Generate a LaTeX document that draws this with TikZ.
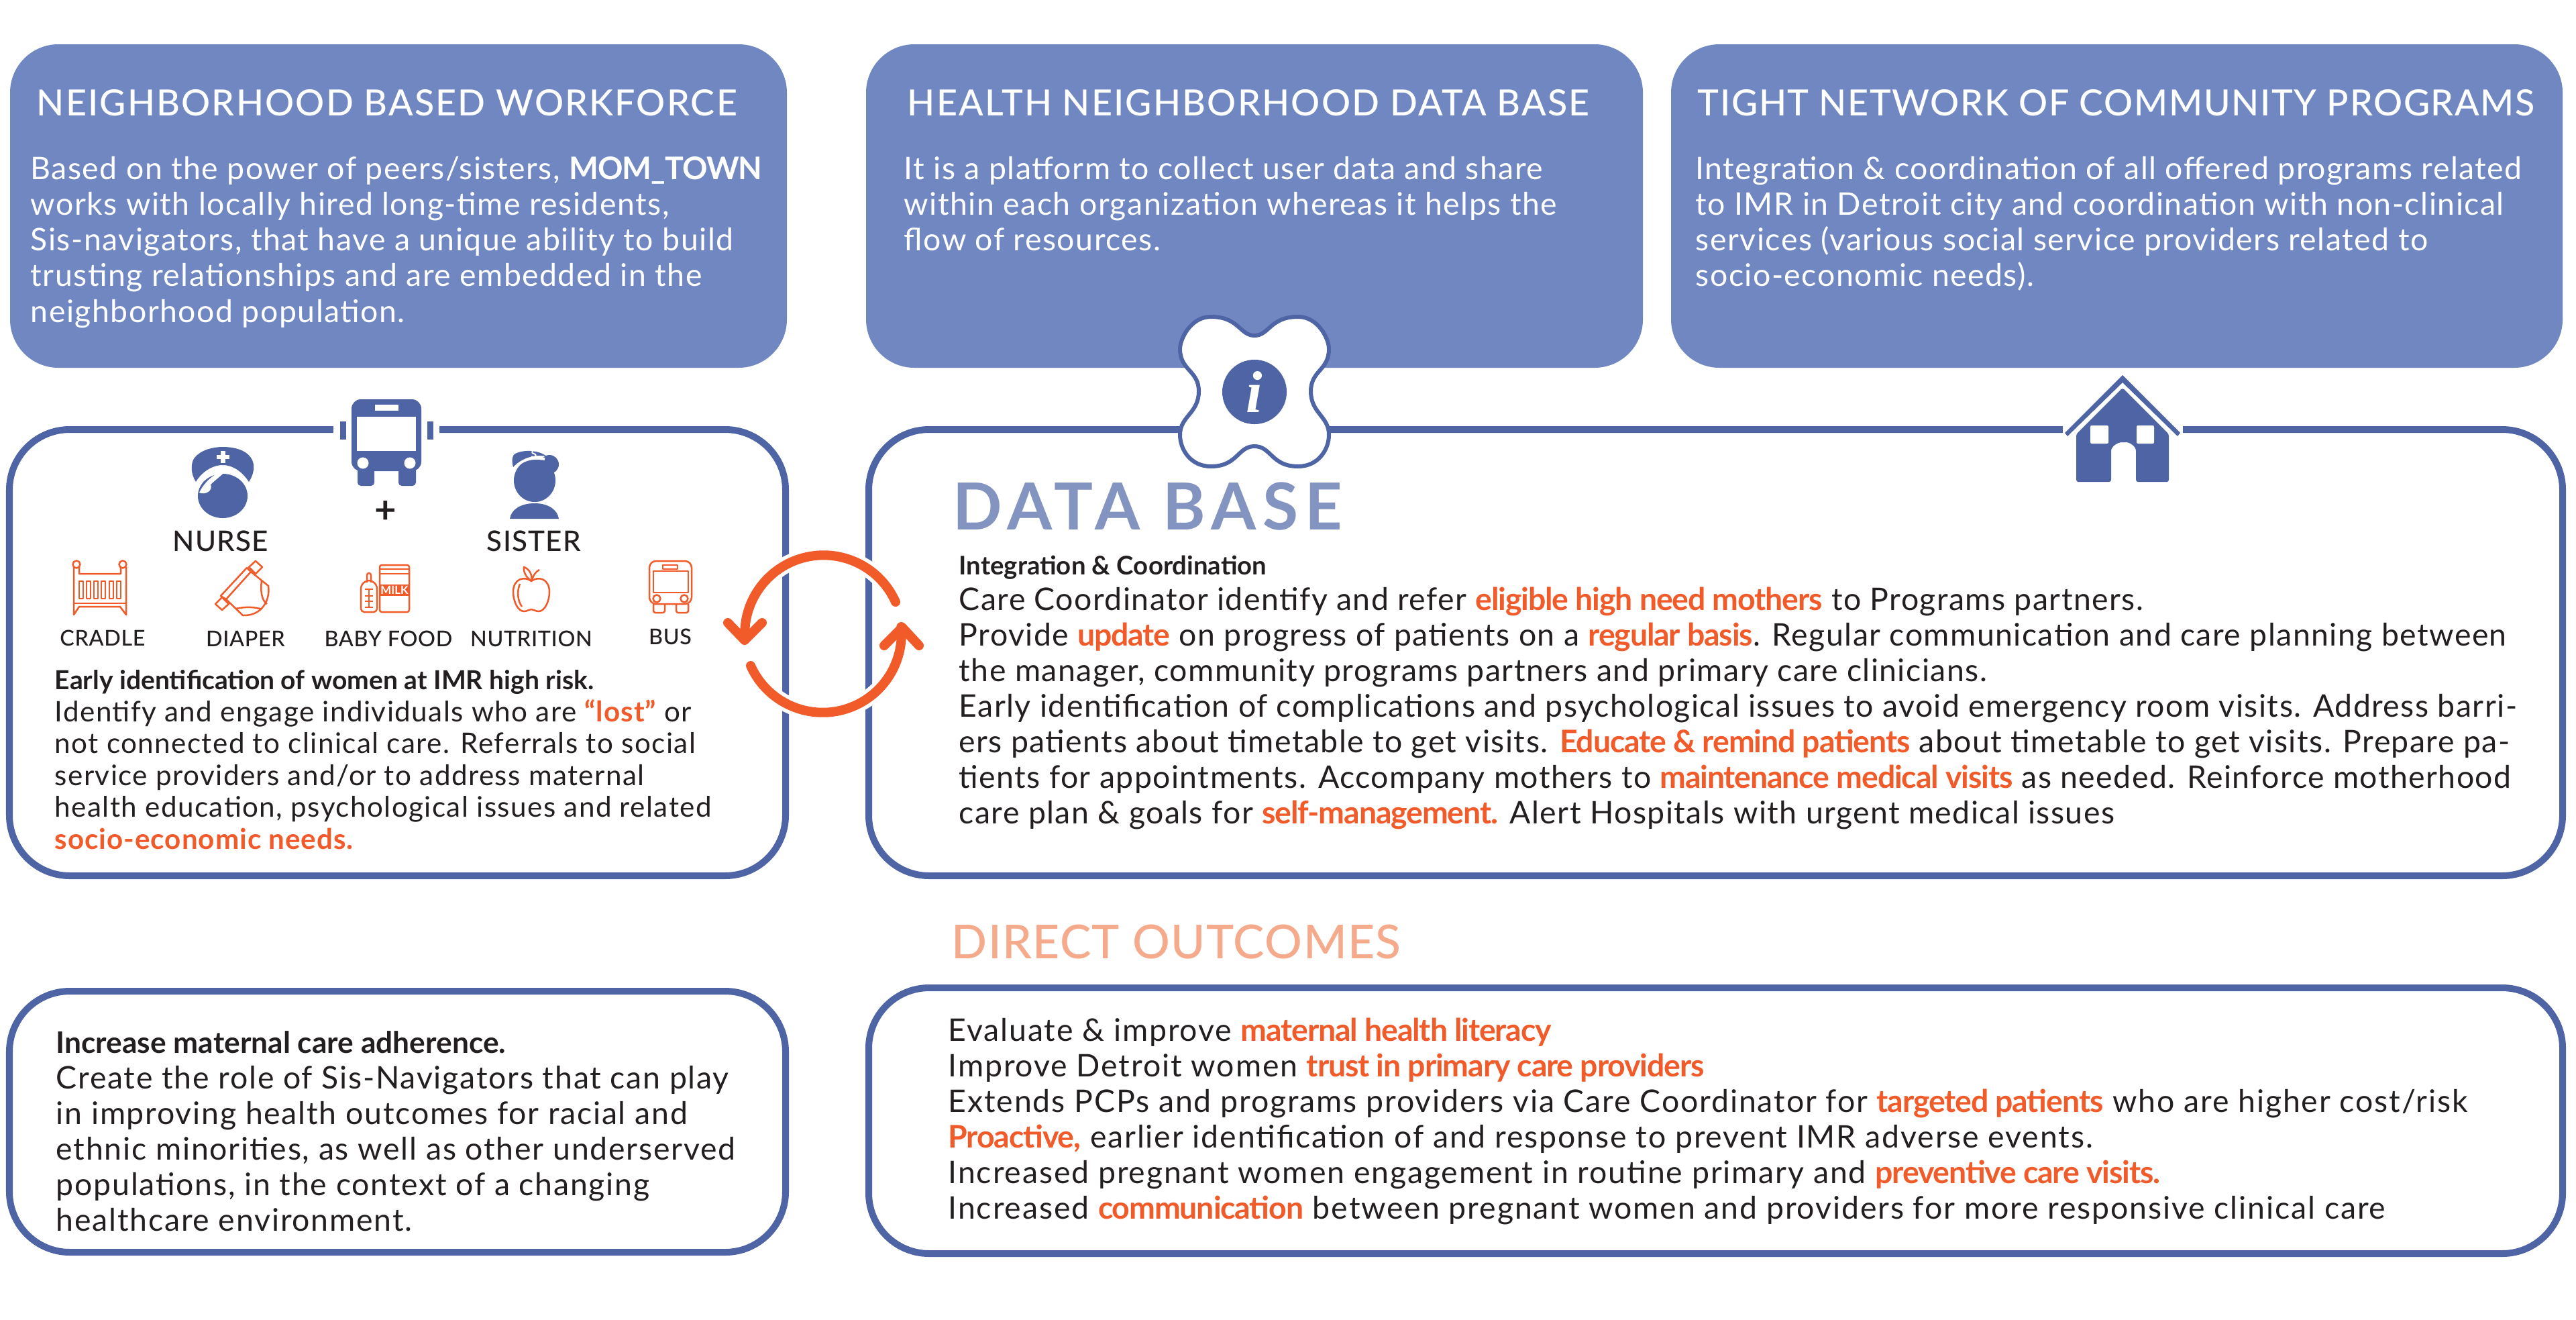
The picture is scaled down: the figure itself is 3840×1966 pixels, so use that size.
\documentclass[tikz,border=0pt]{standalone}
\usepackage{fontspec}
\setmainfont{Lato}
\newfontfamily\momstrong{Lato Bold}
\newfontfamily\mommedium{Lato Medium}
\newfontfamily\infofont{Liberation Serif}
\usetikzlibrary{positioning}
\definecolor{momblue}{RGB}{78,100,165}
\definecolor{momtop}{RGB}{112,135,194}
\definecolor{momtitle}{RGB}{132,148,192}
\definecolor{momorange}{RGB}{241,90,41}
\definecolor{momsalmon}{RGB}{245,170,140}
\definecolor{momtext}{RGB}{35,31,32}
\newcommand{\hl}[1]{{\color{momorange}\momstrong\addfontfeature{LetterSpace=-2.5}#1}}
\newcommand{\hlwide}[1]{{\color{momorange}\momstrong\addfontfeature{LetterSpace=2.3}#1}}
\newcommand{\momfont}[3]{\fontsize{#1}{#2}\selectfont\addfontfeature{LetterSpace=#3}}
\tikzset{
  topbox/.style={fill=momtop, rounded corners=0.72cm},
  linebox/.style={draw=momblue, fill=white, line width=0.1cm, rounded corners=0.9cm},
  headtext/.style={anchor=base west, inner sep=0, text=white, font=\mommedium\momfont{15.3}{17}{4}},
  toptext/.style={anchor=north west, inner sep=0, align=left, text=white, font=\momfont{13.2}{15.08}{3.2}},
  bodytext/.style={anchor=north west, inner sep=0, align=left, text=momtext, font=\momfont{13.2}{15.08}{3.1}},
  iconlabel/.style={inner sep=0, text=momtext, font=\mommedium\momfont{9.2}{11}{2}},
  rolelabel/.style={inner sep=0, text=momtext, font=\mommedium\momfont{12}{14}{3}},
  thinicon/.style={draw=momorange, line width=0.025cm, line join=round},
  cyclearc/.style={draw=momorange, line width=0.14cm, line cap=round, line join=round},
  halo/.style={draw=white, line width=0.25cm}
}
\begin{document}
\begin{tikzpicture}[x=0.01cm, y=-0.01cm]
\useasboundingbox (0,0) rectangle (3840,1966);
\fill[white] (0,0) rectangle (3840,1966);

\fill[topbox] (15,66) rectangle (1173,548);
\fill[topbox] (1291,66) rectangle (2449,548);
\fill[topbox] (2491,66) rectangle (3820,548);
\node[headtext] (workforcehead) at (54,172) {NEIGHBORHOOD BASED WORKFORCE};
\node[headtext] (datahead) at (1352,172) {HEALTH NEIGHBORHOOD DATA BASE};
\node[headtext, font=\mommedium\momfont{15.3}{17}{3}] (networkhead) at (2530,172) {TIGHT NETWORK OF COMMUNITY PROGRAMS};
\node[toptext] (workforcetext) at (45,233) {Based on the power of peers/sisters, {\momstrong\addfontfeature{LetterSpace=-2}MOM\_TOWN}\\
works with locally hired long-time residents,\\
Sis-navigators, that have a unique ability to build\\
trusting relationships and are embedded in the\\
neighborhood population.};
\node[toptext] (datatext) at (1347,233) {It is a platform to collect user data and share\\
within each organization whereas it helps the\\
flow of resources.};
\node[toptext] (networktext) at (2527,233) {Integration \& coordination of all offered programs related\\
to IMR in Detroit city and coordination with non-clinical\\
services (various social service providers related to\\
socio-economic needs).};

\draw[linebox] (14,640) rectangle (1171,1305);
\draw[linebox] (1295,640) rectangle (3820,1305);
\draw[linebox] (14,1477) rectangle (1171,1866);
\draw[linebox] (1295,1472) rectangle (3820,1868);

% bus on the line
\fill[white] (497,625) rectangle (655,655);
\fill[momblue] (507,628) rectangle (516,655);
\fill[momblue] (637,628) rectangle (646,655);
\fill[momblue, rounded corners=0.14cm] (524,595) rectangle (628,702);
\fill[momblue, rounded corners=0.05cm] (533,690) rectangle (558,724);
\fill[momblue, rounded corners=0.05cm] (594,690) rectangle (620,724);
\fill[white] (532,621) rectangle (620,672);
\fill[white] (559,603) rectangle (594,612);
\fill[white] (541,690) circle (0.085cm);
\fill[white] (611,690) circle (0.085cm);

% nurse
\fill[momblue] (332,739) ellipse (0.37cm and 0.33cm);
\draw[white, line width=0.05cm] (296,724) .. controls (305,704) and (318,698) .. (332,698) .. controls (346,698) and (360,704) .. (368,724);
\fill[white] (340,697) .. controls (325,704) and (308,712) .. (297,734) .. controls (305,738) and (318,732) .. (314,722) .. controls (322,714) and (332,708) .. (340,697) -- cycle;
\fill[momblue] (292,718) .. controls (284,706) and (284,690) .. (290,682) .. controls (300,670) and (318,666) .. (332,666) .. controls (348,666) and (366,670) .. (374,682) .. controls (381,692) and (379,706) .. (371,718) .. controls (362,704) and (348,693) .. (332,693) .. controls (316,693) and (300,704) .. (292,718) -- cycle;
\fill[white] (329,672) rectangle (336,690);
\fill[white] (323,678) rectangle (342,684);
\node[rolelabel] (nurselabel) at (329,806) {NURSE};

% plus
\node[inner sep=0, text=momtext, font=\momstrong\fontsize{16}{16}\selectfont] (pluslabel) at (575,763) {+};

% sister
\fill[momblue] (797,716) ellipse (0.31cm and 0.32cm);
\fill[momblue] (819,692) circle (0.14cm);
\fill[momblue] (760,773) .. controls (762,760) and (775,750) .. (797,750) .. controls (818,750) and (831,760) .. (833,773) -- cycle;
\draw[white, line width=0.04cm] (764,700) .. controls (775,686) and (792,680) .. (812,684);
\fill[momblue] (765,696) .. controls (762,685) and (764,678) .. (768,676) .. controls (780,670) and (802,670) .. (815,680) .. controls (795,676) and (776,684) .. (765,696) -- cycle;
\node[inner sep=0, text=white, font=\momstrong\fontsize{4.5}{5}\selectfont] (sistermark) at (796,677) {S};
\node[rolelabel] (sisterlabel) at (796,806) {SISTER};

% cradle
\draw[thinicon] (110,916) -- (110,845) -- (118,845) -- (118,855) -- (180,855) -- (180,845) -- (188,845) -- (188,916) -- (179,904) -- (118,904) -- cycle;
\draw[thinicon, fill=white] (114,841) circle (0.055cm);
\draw[thinicon, fill=white] (183,841) circle (0.055cm);
\draw[thinicon] (110,899) -- (188,899);
\foreach \barx in {118,129,140,151,163,174} {
  \draw[thinicon] (\barx,866) rectangle ++(6,26);
}
\node[iconlabel] (cradlelabel) at (153,951) {CRADLE};

% diaper
\draw[thinicon] (371,845) -- (381,836) -- (391,845) -- (381,855) -- cycle;
\draw[thinicon] (321,900) -- (331,890) -- (341,900) -- (331,909) -- cycle;
\draw[thinicon] (329,888) -- (368,846) -- (374,852) -- (337,893) -- cycle;
\draw[thinicon] (374,852) -- (400,873) .. controls (403,895) and (390,918) .. (362,917) -- (337,893);
\draw[thinicon] (390,866) .. controls (388,880) and (390,895) .. (398,900);
\draw[thinicon] (352,907) .. controls (365,904) and (380,904) .. (390,908);
\node[iconlabel] (diaperlabel) at (366,952) {DIAPER};

% baby food
\draw[thinicon, rounded corners=0.03cm] (547,868) -- (547,854) -- (553,854) -- (553,868);
\draw[thinicon, rounded corners=0.05cm] (538,912) -- (538,872) -- (546,865) -- (554,865) -- (562,872) -- (562,912) -- cycle;
\draw[thinicon] (550,878) -- (550,905);
\foreach \ticky in {878,888,896,905} {
  \draw[thinicon] (544,\ticky) -- (556,\ticky);
}
\draw[thinicon, rounded corners=0.03cm] (566,842) rectangle (610,912);
\draw[thinicon] (566,848) -- (610,848);
\draw[thinicon] (566,855) -- (610,855);
\fill[momorange] (566,871) rectangle (610,888);
\node[inner sep=0, text=white, font=\momstrong\fontsize{4.8}{5}\selectfont] (milklabel) at (588,879.5) {MILK};
\node[iconlabel] (babyfoodlabel) at (579,952) {BABY FOOD};

% nutrition
\draw[thinicon] (792,866) .. controls (782,858) and (765,862) .. (765,882) .. controls (765,896) and (772,911) .. (781,911) .. controls (786,911) and (788,908) .. (792,908) .. controls (796,908) and (798,911) .. (803,911) .. controls (812,911) and (819,896) .. (819,882) .. controls (819,862) and (802,858) .. (792,866) -- cycle;
\draw[thinicon] (792,866) .. controls (784,860) and (780,852) .. (781,845) .. controls (789,848) and (794,856) .. (792,866) .. controls (795,858) and (798,852) .. (804,849);
\draw[thinicon] (775,870) .. controls (770,882) and (772,896) .. (778,904);
\node[iconlabel] (nutritionlabel) at (792,952) {NUTRITION};

% small bus
\draw[thinicon, rounded corners=0.1cm] (968,836) rectangle (1031,900);
\draw[thinicon] (974,851) rectangle (1026,883);
\draw[thinicon] (988,842) rectangle (1010,848);
\draw[thinicon] (979,892) circle (0.055cm);
\draw[thinicon] (1020,892) circle (0.055cm);
\draw[thinicon, rounded corners=0.03cm] (974,900) -- (974,913) -- (991,913) -- (991,900);
\draw[thinicon, rounded corners=0.03cm] (1008,900) -- (1008,913) -- (1026,913) -- (1026,900);
\node[iconlabel] (buslabel) at (999,949) {BUS};

\node[bodytext, font=\momfont{12}{13.5}{3.4}] (womentext) at (81,998) {{\momstrong\momfont{11.1}{13.5}{0}Early identification of women at IMR high risk.}\\
Identify and engage individuals who are \hlwide{“lost”} or\\
not connected to clinical care. Referrals to social\\
service providers and/or to address maternal\\
health education, psychological issues and related\\
\hlwide{socio-economic needs.}};

% info mark on the line
\draw[draw=momblue, fill=white, line width=0.06cm] (1870,500)
  .. controls (1892,500) and (1893,472) .. (1935,472)
  .. controls (1965,472) and (1981,505) .. (1981,520)
  .. controls (1981,552) and (1954,552) .. (1954,583)
  .. controls (1954,616) and (1981,620) .. (1981,648)
  .. controls (1981,670) and (1965,695) .. (1935,695)
  .. controls (1895,695) and (1895,665) .. (1870,665)
  .. controls (1845,665) and (1845,695) .. (1805,695)
  .. controls (1775,695) and (1759,670) .. (1759,648)
  .. controls (1759,620) and (1787,616) .. (1787,583)
  .. controls (1787,552) and (1759,552) .. (1759,520)
  .. controls (1759,505) and (1775,472) .. (1805,472)
  .. controls (1847,472) and (1848,500) .. (1870,500) -- cycle;
\fill[momblue] (1870,584) circle (0.48cm);
\node[inner sep=0, text=white, font=\infofont\fontsize{25}{25}\selectfont\bfseries\itshape] (infomark) at (1870,584) {i};

% house on the line
\fill[white] (3075,625) rectangle (3254,655);
\fill[momblue] (3078,645) -- (3164,559) -- (3250,645) -- (3246,650) -- (3164,570) -- (3082,650) -- cycle;
\fill[momblue, rounded corners=0.03cm] (3164,578) -- (3233,647) -- (3233,718) -- (3184,718) -- (3184,675) .. controls (3184,665) and (3175,659) .. (3166,659) .. controls (3157,659) and (3147,665) .. (3147,675) -- (3147,718) -- (3095,718) -- (3095,647) -- cycle;
\fill[white, rounded corners=0.02cm] (3116,634) rectangle (3143,661);
\fill[white, rounded corners=0.02cm] (3185,634) rectangle (3211,661);

\node[anchor=base west, inner sep=0, text=momtitle, font=\momstrong\momfont{27.5}{30}{10}] (databasetitle) at (1420,789) {DATA BASE};
\node[bodytext] (databasetext) at (1429,827) {{\momstrong\momfont{10.9}{15.08}{0}Integration \& Coordination}\\
Care Coordinator identify and refer \hl{eligible high need mothers} to Programs partners.\\
Provide \hl{update} on progress of patients on a \hl{regular basis}. Regular communication and care planning between\\
the manager, community programs partners and primary care clinicians.\\
Early identification of complications and psychological issues to avoid emergency room visits. Address barri-\\
ers patients about timetable to get visits. \hl{Educate \& remind patients} about timetable to get visits. Prepare pa-\\
tients for appointments. Accompany mothers to \hl{maintenance medical visits} as needed. Reinforce motherhood\\
care plan \& goals for \hl{self-management.} Alert Hospitals with urgent medical issues};

\node[anchor=base west, inner sep=0, text=momsalmon, font=\mommedium\momfont{19.8}{22}{2}] (outcomestitle) at (1418,1428) {DIRECT OUTCOMES};

\node[bodytext, font=\momfont{13.2}{15.08}{3.8}] (adherencetext) at (83,1536) {{\momstrong\momfont{12.6}{15.08}{0}Increase maternal care adherence.}\\
Create the role of Sis-Navigators that can play\\
in improving health outcomes for racial and\\
ethnic minorities, as well as other underserved\\
populations, in the context of a changing\\
healthcare environment.};
\node[bodytext, font=\momfont{13.2}{15.08}{4}] (outcomestext) at (1413,1516) {Evaluate \& improve \hl{maternal health literacy}\\
Improve Detroit women \hl{trust in primary care providers}\\
Extends PCPs and programs providers via Care Coordinator for \hl{targeted patients} who are higher cost/risk\\
\hl{Proactive,} earlier identification of and response to prevent IMR adverse events.\\
Increased pregnant women engagement in routine primary and \hl{preventive care visits.}\\
Increased \hl{communication} between pregnant women and providers for more responsive clinical care};

% cycle arrows
\draw[halo] (1335,897) arc[start angle=-24, end angle=-170, radius=117.5];
\draw[halo] (1119,992) arc[start angle=156, end angle=10, radius=117.5];
\draw[cyclearc] (1335,897) arc[start angle=-24, end angle=-184, radius=117.5];
\draw[cyclearc] (1085,928) -- (1110,954) -- (1136,928);
\draw[cyclearc] (1119,992) arc[start angle=156, end angle=-5, radius=117.5];
\draw[cyclearc] (1318,962) -- (1345,935) -- (1370,962);
\end{tikzpicture}
\end{document}
